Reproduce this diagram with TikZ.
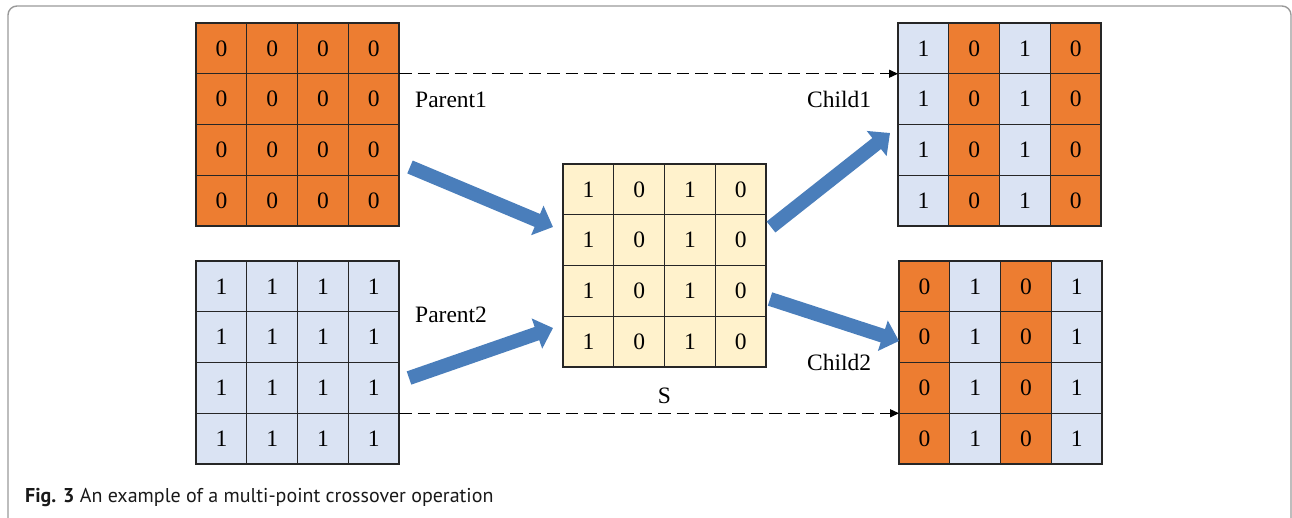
\documentclass[tikz,border=0pt]{standalone}
\usepackage{fontspec}
\setmainfont{Liberation Serif}
\setsansfont{PT Sans}
\usetikzlibrary{arrows.meta}
\usetikzlibrary{positioning}

\definecolor{geneorange}{HTML}{ED7D31}
\definecolor{geneblue}{HTML}{DAE3F3}
\definecolor{maskyellow}{HTML}{FFF2CC}
\definecolor{flowblue}{HTML}{4A7EBB}

\begin{document}
\begin{tikzpicture}[x=1pt,y=-1pt,
  cell/.style={draw=black!85,line width=1.1pt,minimum width=50.75pt,minimum height=50.75pt,
    inner sep=0pt,outer sep=0pt,anchor=north west,font=\fontsize{23.5}{26}\selectfont},
  tag/.style={inner sep=0pt,font=\fontsize{23.5}{26}\selectfont},
  copy edge/.style={line width=1.4pt,dash pattern=on 12.5pt off 6pt,-{Triangle[width=8pt,length=9pt]}},
  block edge/.style={line width=14pt,color=flowblue,-{Triangle[width=31pt,length=17pt]}}]

  \useasboundingbox (0,0) rectangle (1292,518);
  \draw[gray!80,line width=1.4pt,rounded corners=9pt] (8,6) rectangle (1291,545);

  % the two parents
  \foreach \r in {1,...,4}
    \foreach \c in {1,...,4} {
      \node[cell,fill=geneorange] (p1-\r-\c) at ({196+(\c-1)*50.75},{23+(\r-1)*50.75}) {0};
      \node[cell,fill=geneblue] (p2-\r-\c) at ({196+(\c-1)*50.75},{261+(\r-1)*50.75}) {1};
    }

  % mask S and the two children
  \foreach \r in {1,...,4}
    \foreach \c/\bit/\flip/\colA/\colB in {1/1/0/geneblue/geneorange,2/0/1/geneorange/geneblue,
                                            3/1/0/geneblue/geneorange,4/0/1/geneorange/geneblue} {
      \node[cell,fill=maskyellow] (s-\r-\c) at ({563+(\c-1)*50.75},{164+(\r-1)*50.75}) {\bit};
      \node[cell,fill=\colA] (c1-\r-\c) at ({898+(\c-1)*50.75},{23+(\r-1)*50.75}) {\bit};
      \node[cell,fill=\colB] (c2-\r-\c) at ({899+(\c-1)*50.75},{261+(\r-1)*50.75}) {\flip};
    }

  \node[tag,anchor=base west] (parent1) at (415,108) {Parent1};
  \node[tag,anchor=base west] (parent2) at (415,323) {Parent2};
  \node[tag,anchor=base west] (child1) at (807,108) {Child1};
  \node[tag,anchor=base west] (child2) at (807,370) {Child2};
  \node[tag,anchor=base] (mask) at (664.5,403) {S};

  \node[anchor=base west,inner sep=0pt,text=black!90,font=\sffamily\fontsize{20}{23}\selectfont]
    (caption) at (25,502) {\textbf{Fig. 3} An example of a multi-point crossover operation};

  % ends of the block arrows
  \coordinate (p1out) at (410,167);
  \coordinate (sin1) at (553,227);
  \coordinate (p2out) at (409,378);
  \coordinate (sin2) at (553,328);
  \coordinate (sout1) at (771,227);
  \coordinate (c1in) at (890,133);
  \coordinate (sout2) at (770,299);
  \coordinate (c2in) at (899,341);

  \draw[block edge] (p1out) -- (sin1);
  \draw[block edge] (p2out) -- (sin2);
  \draw[block edge] (sout1) -- (c1in);
  \draw[block edge] (sout2) -- (c2in);

  \path[copy edge]
    (p1-1-4.south east) edge (c1-1-1.south west)
    (p2-3-4.south east) edge (c2-3-1.south west);

\end{tikzpicture}
\end{document}
